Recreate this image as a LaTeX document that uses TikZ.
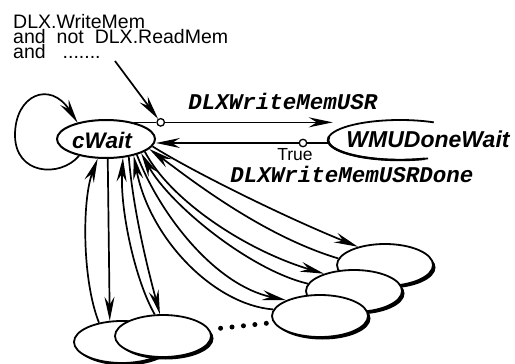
\documentclass[tikz,border=0pt]{standalone}
\usepackage{fontspec}
\setmainfont{Liberation Sans}
\newfontfamily\courfont{Liberation Mono}
\usetikzlibrary{shapes.geometric,arrows.meta,shadows,calc}

\begin{document}
\begin{tikzpicture}[x=1pt,y=-1pt,
  conn/.style={line width=1.7pt},
  arr/.style={conn,-{Stealth[length=24pt,width=10pt,inset=8pt]}},
  port/.style={circle,draw,fill=white,line width=1.3pt,inner sep=0pt,minimum size=7.5pt},
  lstate/.style={ellipse,draw,line width=1.8pt,fill=white,inner sep=0pt,
    minimum width=96pt,minimum height=42pt,
    general shadow={fill=black,shadow xshift=2.5pt,shadow yshift=-2.5pt}},
  cond/.style={inner sep=0pt,anchor=north west,align=left,font=\fontsize{19.5}{15}\selectfont},
  sigmono/.style={inner sep=0pt,font=\courfont\bfseries\itshape\fontsize{22.5}{22.5}\selectfont},
  dots/.style={line width=5pt,line cap=round,dash pattern=on 0pt off 11.5pt}
]
\useasboundingbox (0,0) rectangle (515,364);

% states
\node[ellipse,draw,line width=2pt,fill=white,inner sep=0pt,minimum width=98pt,minimum height=38pt] (cw) at (106,139) {};
\node[inner sep=0pt,font=\bfseries\itshape\fontsize{22.5}{22.5}\selectfont] (cwtext) at (102,140) {cWait};

\node[ellipse,inner sep=0pt,minimum width=144pt,minimum height=40pt] (wmushape) at (400,140) {};
\draw[line width=2.4pt] ([shift={(170:72pt and 20pt)}]wmushape.center)
   arc[start angle=170,end angle=290,x radius=72pt,y radius=20pt];
\draw[line width=1.8pt] ([shift={(62:72pt and 20pt)}]wmushape.center)
   arc[start angle=62,end angle=293,x radius=72pt,y radius=20pt];
\node[inner sep=0pt,font=\bfseries\itshape\fontsize{23}{23}\selectfont] (wmu) at (428,139) {WMUDoneWait};

\node[lstate] (ea) at (385,265) {};
\node[lstate] (eb) at (354,291) {};
\node[lstate] (ec) at (320,316) {};
\node[lstate] (e1) at (122,342) {};
\node[lstate] (e2) at (163,336) {};

% trigger condition
\node[cond] (cnd) at (13,14) {DLX.WriteMem\\
  and\hspace{11pt}not\hspace{11pt}DLX.ReadMem\\
  and\hspace{17pt}.......};
\coordinate (trig) at (115,61);

% transition cWait -> WMUDoneWait
\node[port] (p1) at ([xshift=27pt]cw.31) {};
\draw[conn] (cw.31) -- (p1.west);
\draw[arr] (p1.east) -- ($(p1 -| wmushape.west)+(5,0)$);
\draw[arr] (trig) -- (p1);
\node[sigmono] (lbl1) at (283,101) {DLXWriteMemUSR};

% transition WMUDoneWait -> cWait
\node[port] (p2) at (303,143) {};
\draw[conn] (p2 -| wmushape.west) -- (p2.east);
\draw[arr] (p2.west) -- (p2 -| cw.east);
\node[inner sep=0pt,font=\fontsize{17.5}{17.5}\selectfont] (true) at (295,155) {True};
\node[sigmono] (lbl2) at (352,174) {DLXWriteMemUSRDone};

% self loop
\draw[arr] (cw.212) .. controls (60,178) and (15,175) .. (15,135)
                    .. controls (15,95) and (50,80) .. (cw.150);

% fan to the right-hand states
\draw[arr] (cw.-9) .. controls (190,170) and (280,215) .. (ea.146);
\draw[arr] (ea.172) .. controls (260,235) and (185,175) .. (cw.-13);
\draw[arr] (cw.-18) .. controls (170,200) and (245,250) .. (eb.150);
\draw[arr] (eb.171) .. controls (250,270) and (170,205) .. (cw.-22);
\draw[arr] (cw.-27) .. controls (160,215) and (215,285) .. (ec.155);
\draw[arr] (ec.172) .. controls (215,305) and (150,240) .. (cw.-31);

% fan to the lower states
\draw[arr] (e1.140) .. controls (82,280) and (82,200) .. (cw.-113);
\draw[arr] (cw.-85) -- (e1.120);
\draw[arr] (e2.111) .. controls (135,280) and (120,210) .. (cw.-48);
\draw[arr] (cw.-38) .. controls (133,210) and (148,270) .. (e2.98);

% further states
\draw[dots,shorten <=11pt,shorten >=6pt] (e2.8) -- (ec.188);
\end{tikzpicture}
\end{document}
